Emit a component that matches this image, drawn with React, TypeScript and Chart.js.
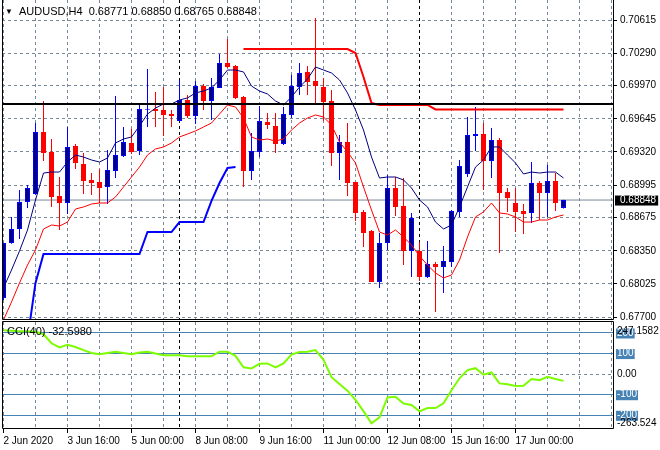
import React, { useEffect, useRef } from 'react';
import { Chart, registerables } from 'chart.js';

Chart.register(...registerables);

// ---------------- DATA ----------------
const symbol = 'AUDUSD,H4';
const cciPeriod = 40;

const opens = [
  0.67886, 0.68426, 0.68564, 0.68829, 0.68907, 0.69516, 0.69320, 0.68888, 0.68819, 0.69378,
  0.69202, 0.69045, 0.69025, 0.68976, 0.69133, 0.69280, 0.69408, 0.69329, 0.69735, 0.69742,
  0.69732, 0.69692, 0.69624, 0.69830, 0.69673, 0.69967, 0.69820, 0.69948, 0.70193, 0.70164,
  0.69859, 0.69133, 0.69320, 0.69614, 0.69575, 0.69398, 0.69683, 0.69957, 0.70105, 0.70016,
  0.69957, 0.69820, 0.69310, 0.69418, 0.69025, 0.68731, 0.68544, 0.68044, 0.68426, 0.68966,
  0.68790, 0.68348, 0.68348, 0.68093, 0.68220, 0.68191, 0.68240, 0.68731, 0.69104, 0.69476,
  0.69496, 0.69231, 0.69437, 0.68927, 0.68819, 0.68740, 0.68721, 0.69015, 0.68917, 0.69035,
  0.68771,
];
const highs = [
  0.68430, 0.68682, 0.68947, 0.68996, 0.69604, 0.69820, 0.69447, 0.69074, 0.69565, 0.69398,
  0.69310, 0.69113, 0.69153, 0.69339, 0.69869, 0.69565, 0.69545, 0.69781, 0.70134, 0.69908,
  0.69957, 0.69732, 0.70026, 0.69879, 0.70016, 0.69987, 0.70046, 0.70281, 0.70429, 0.70173,
  0.69869, 0.69506, 0.69771, 0.69702, 0.69702, 0.69761, 0.70075, 0.70193, 0.70164, 0.70635,
  0.70046, 0.69928, 0.69486, 0.69604, 0.69025, 0.68750, 0.68554, 0.68524, 0.69094, 0.69074,
  0.69064, 0.68721, 0.68436, 0.68446, 0.68240, 0.68397, 0.68750, 0.69241, 0.69663, 0.69761,
  0.69604, 0.69555, 0.69457, 0.68966, 0.68966, 0.68809, 0.69221, 0.69035, 0.69192, 0.69113,
  0.68850,
];
const lows = [
  0.67867, 0.68420, 0.68466, 0.68770, 0.68900, 0.69231, 0.68780, 0.68554, 0.68711, 0.69153,
  0.68907, 0.68897, 0.68819, 0.68809, 0.69064, 0.69270, 0.69300, 0.69290, 0.69565, 0.69565,
  0.69476, 0.69565, 0.69624, 0.69653, 0.69594, 0.69732, 0.69634, 0.69948, 0.70144, 0.69840,
  0.68976, 0.69045, 0.69270, 0.69545, 0.69310, 0.69388, 0.69653, 0.69879, 0.69879, 0.69791,
  0.69624, 0.69182, 0.69045, 0.68888, 0.68642, 0.68387, 0.68044, 0.67985, 0.68358, 0.68691,
  0.68210, 0.68093, 0.68053, 0.68083, 0.67749, 0.67936, 0.68191, 0.68682, 0.69074, 0.69329,
  0.68947, 0.69064, 0.68328, 0.68731, 0.68534, 0.68515, 0.68623, 0.68652, 0.68682, 0.68740,
  0.68765,
];
const closes = [
  0.68426, 0.68564, 0.68829, 0.68966, 0.69516, 0.69310, 0.68878, 0.68819, 0.69369, 0.69212,
  0.69035, 0.69015, 0.68966, 0.69143, 0.69290, 0.69418, 0.69320, 0.69742, 0.69742, 0.69722,
  0.69683, 0.69673, 0.69830, 0.69673, 0.69967, 0.69820, 0.69957, 0.70193, 0.70154, 0.69850,
  0.69133, 0.69329, 0.69624, 0.69584, 0.69398, 0.69692, 0.69967, 0.70095, 0.70007, 0.69967,
  0.69810, 0.69310, 0.69418, 0.69015, 0.68721, 0.68524, 0.68044, 0.68426, 0.68966, 0.68780,
  0.68348, 0.68672, 0.68093, 0.68220, 0.68191, 0.68250, 0.68740, 0.69182, 0.69486, 0.69496,
  0.69231, 0.69437, 0.68917, 0.68868, 0.68731, 0.68711, 0.69015, 0.68917, 0.69035, 0.68819,
  0.68848,
];
const upperBand = [
  0.67985, 0.68161, 0.68348, 0.68554, 0.68848, 0.69113, 0.69123, 0.69123, 0.69221, 0.69290,
  0.69270, 0.69241, 0.69221, 0.69261, 0.69408, 0.69447, 0.69467, 0.69575, 0.69692, 0.69751,
  0.69791, 0.69791, 0.69830, 0.69850, 0.69899, 0.69918, 0.69948, 0.70026, 0.70124, 0.70124,
  0.70105, 0.69967, 0.69918, 0.69889, 0.69820, 0.69781, 0.69859, 0.69957, 0.70036, 0.70154,
  0.70124, 0.70095, 0.70026, 0.69899, 0.69732, 0.69535, 0.69270, 0.69064, 0.69074, 0.69074,
  0.69045, 0.68966, 0.68848, 0.68780, 0.68632, 0.68564, 0.68603, 0.68780, 0.68976, 0.69172,
  0.69241, 0.69369, 0.69369, 0.69290, 0.69212, 0.69104, 0.69123, 0.69113, 0.69123, 0.69123,
  0.69064,
];
const lowerBand = [
  0.67671, 0.67847, 0.68034, 0.68210, 0.68358, 0.68564, 0.68603, 0.68593, 0.68632, 0.68760,
  0.68780, 0.68809, 0.68819, 0.68819, 0.68878, 0.68976, 0.69074, 0.69172, 0.69290, 0.69349,
  0.69369, 0.69408, 0.69467, 0.69496, 0.69526, 0.69565, 0.69604, 0.69692, 0.69781, 0.69761,
  0.69653, 0.69467, 0.69437, 0.69447, 0.69427, 0.69447, 0.69535, 0.69604, 0.69653, 0.69683,
  0.69663, 0.69584, 0.69418, 0.69320, 0.69212, 0.68976, 0.68750, 0.68534, 0.68505, 0.68554,
  0.68485, 0.68407, 0.68299, 0.68210, 0.68132, 0.68083, 0.68112, 0.68259, 0.68485, 0.68682,
  0.68731, 0.68819, 0.68721, 0.68711, 0.68682, 0.68632, 0.68632, 0.68652, 0.68652, 0.68682,
  0.68701,
];
const blueStop = [
  null, null, null, 0.67484, 0.68034, 0.68318, 0.68318, 0.68318, 0.68318, 0.68318,
  0.68318, 0.68318, 0.68318, 0.68318, 0.68318, 0.68318, 0.68318, 0.68318, 0.68534, 0.68534,
  0.68534, 0.68534, 0.68632, 0.68632, 0.68632, 0.68632, 0.68839, 0.69015, 0.69162, 0.69172,
  null, null, null, null, null, null, null, null, null, null,
  null, null, null, null, null, null, null, null, null, null,
  null, null, null, null, null, null, null, null, null, null,
  null, null, null, null, null, null, null, null, null, null,
  null,
];
const redStop = [
  null, null, null, null, null, null, null, null, null, null,
  null, null, null, null, null, null, null, null, null, null,
  null, null, null, null, null, null, null, null, null, null,
  0.70330, 0.70330, 0.70330, 0.70330, 0.70330, 0.70330, 0.70330, 0.70330, 0.70330, 0.70330,
  0.70330, 0.70330, 0.70330, 0.70330, 0.70291, 0.70056, 0.69800, 0.69781, 0.69781, 0.69781,
  0.69781, 0.69781, 0.69781, 0.69781, 0.69737, 0.69737, 0.69737, 0.69737, 0.69737, 0.69737,
  0.69737, 0.69737, 0.69737, 0.69737, 0.69737, 0.69737, 0.69737, 0.69737, 0.69737, 0.69737,
  0.69737,
];
const cci = [
  213, 211, 209, 208, 206, 194, 150, 130, 143, 132,
  117, 103, 97, 103, 109, 103, 97, 105, 109, 100,
  92, 92, 92, 87, 87, 87, 87, 109, 109, 89,
  33, 28, 50, 52, 33, 52, 95, 108, 109, 117,
  70, -15, -48, -80, -125, -180, -239, -210, -113, -110,
  -143, -150, -181, -165, -165, -142, -78, -20, 20, 29,
  -3, 8, -45, -49, -58, -56, -24, -29, -13, -24,
  -32.598,
];
const resistanceLevel = 0.6979;
const priceTicks = [0.70615, 0.7029, 0.6997, 0.69645, 0.6932, 0.68995, 0.68675, 0.6835, 0.68025, 0.677];
const cciLevels = [200, 100, 0, -100, -200];
const cciMaxLabel = '247.1582';
const cciMinLabel = '-263.524';
const timeLabels = [
  '2 Jun 2020', '3 Jun 16:00', '5 Jun 00:00', '8 Jun 08:00', '9 Jun 16:00',
  '11 Jun 00:00', '12 Jun 08:00', '15 Jun 16:00', '17 Jun 00:00',
];
const weekStarts = [22, 52];

// ---------------- STYLE / LAYOUT ----------------
const FONT = "'Liberation Sans Narrow', 'Liberation Sans', Arial, sans-serif";
const AXIS_FONT_SIZE = 10;
const GRID = '#778899';
const CLEAR = 'rgba(0,0,0,0)';
const BULL_BODY = '#000080';
const BULL_LINE = '#0000FF';
const BEAR = '#FF0000';
const STEEL = '#4682B4';

const N = closes.length;
const X_MIN = -0.1875;
const X_MAX = 76.3125;
const PRICE_MIN = 0.676706;
const PRICE_MAX = 0.708113;
const CCI_MIN = -266.6;
const CCI_MAX = 253.46;
const CCI_MAX_LABEL_AT = 208.3;
const CCI_MIN_LABEL_AT = -239.9;

const xTickValues: number[] = [];
for (let v = 0; v <= 76; v += 4) xTickValues.push(v);
const allXTicks = [...xTickValues, ...weekStarts];

const toPoints = (arr: (number | null)[]) =>
  arr.map((v, i) => (v == null ? null : { x: i, y: v })).filter(Boolean);

const isBull = (i: number) => closes[i] >= opens[i];
const lastClose = closes[N - 1];

const makeFrame = (withTop: boolean) => ({
  id: 'frame' + (withTop ? 'T' : ''),
  afterDraw(chart: any) {
    const { ctx, chartArea: a } = chart;
    const l = a.left + 0.5;
    const r = a.right - 0.5;
    const t = a.top - 0.5;
    const b = a.bottom - 0.5;
    ctx.save();
    ctx.strokeStyle = '#000';
    ctx.lineWidth = 1;
    ctx.beginPath();
    ctx.moveTo(l, withTop ? t : a.top);
    ctx.lineTo(l, b);
    ctx.lineTo(r, b);
    ctx.lineTo(r, withTop ? t : a.top);
    if (withTop) ctx.lineTo(l, t);
    ctx.stroke();
    ctx.restore();
  },
});

const tickVal = (ctx: any) => (ctx && ctx.tick ? ctx.tick.value : NaN);
const xGridColor = (ctx: any) => (weekStarts.includes(tickVal(ctx)) ? '#000' : GRID);

export default function App() {
  const mainRef = useRef<HTMLCanvasElement>(null);
  const cciRef = useRef<HTMLCanvasElement>(null);

  useEffect(() => {
    Chart.defaults.font.family = FONT;
    Chart.defaults.font.size = AXIS_FONT_SIZE;
    Chart.defaults.color = '#000';

    const isBid = (ctx: any) => Math.abs(tickVal(ctx) - lastClose) < 1e-9;

    const main = new Chart(mainRef.current as HTMLCanvasElement, {
      type: 'bar',
      data: {
        datasets: [
          {
            type: 'line',
            data: [{ x: X_MIN, y: resistanceLevel }, { x: X_MAX, y: resistanceLevel }],
            borderColor: '#000', borderWidth: 2, pointRadius: 0, order: 0,
          },
          {
            type: 'line', data: toPoints(redStop), borderColor: BEAR, borderWidth: 2,
            pointRadius: 0, order: 1,
          },
          {
            type: 'line', data: toPoints(blueStop), borderColor: BULL_LINE, borderWidth: 2,
            pointRadius: 0, order: 1,
          },
          {
            type: 'line', data: toPoints(upperBand), borderColor: BULL_BODY, borderWidth: 1,
            pointRadius: 0, order: 2,
          },
          {
            type: 'line', data: toPoints(lowerBand), borderColor: BEAR, borderWidth: 1,
            pointRadius: 0, order: 2,
          },
          {
            type: 'line',
            data: [{ x: X_MIN, y: lastClose }, { x: X_MAX, y: lastClose }],
            borderColor: GRID, borderWidth: 1, pointRadius: 0, order: 8,
          },
          {
            type: 'bar',
            data: opens.map((o, i) => ({ x: i, y: [Math.min(o, closes[i]), Math.max(o, closes[i])] })),
            backgroundColor: (c: any) => (isBull(c.dataIndex) ? BULL_BODY : BEAR),
            borderColor: (c: any) => (isBull(c.dataIndex) ? BULL_LINE : BEAR),
            borderWidth: 1, borderSkipped: false, barThickness: 5, grouped: false,
            minBarLength: 1, inflateAmount: 0, order: 5,
          },
          {
            type: 'bar',
            data: highs.map((h, i) => ({ x: i, y: [lows[i], h] })),
            backgroundColor: (c: any) => (isBull(c.dataIndex) ? BULL_LINE : BEAR),
            borderWidth: 0, barThickness: 1, grouped: false, inflateAmount: 0, order: 6,
          },
        ],
      } as any,
      options: {
        responsive: false,
        maintainAspectRatio: false,
        animation: false,
        devicePixelRatio: 1,
        events: [],
        layout: { padding: { left: 2, top: 0, right: 0, bottom: 1 } },
        plugins: { legend: { display: false }, tooltip: { enabled: false } },
        scales: {
          x: {
            type: 'linear', min: X_MIN, max: X_MAX, offset: false, bounds: 'data',
            afterBuildTicks: (s: any) => { s.ticks = allXTicks.map((v) => ({ value: v })); },
            afterFit: (s: any) => { s.height = 0; s.paddingLeft = 0; s.paddingRight = 0; },
            ticks: { display: false },
            grid: { offset: false, drawTicks: false, color: xGridColor, lineWidth: 1 },
            border: { display: false, dash: [3, 3] },
          },
          y: {
            type: 'linear', position: 'right', min: PRICE_MIN, max: PRICE_MAX,
            bounds: 'data', beginAtZero: false,
            afterBuildTicks: (s: any) => {
              s.ticks = [...priceTicks, lastClose].map((v) => ({ value: v }));
            },
            afterFit: (s: any) => { s.width = 46; s.paddingTop = 0; s.paddingBottom = 0; },
            ticks: {
              autoSkip: false, padding: 3,
              font: { family: FONT, size: AXIS_FONT_SIZE, lineHeight: 1.1 },
              color: (c: any) => (isBid(c) ? '#fff' : '#000'),
              showLabelBackdrop: (c: any) => isBid(c),
              backdropColor: '#000',
              backdropPadding: { top: -1, bottom: 0, left: 5, right: 2 },
              callback: (v: any) => Number(v).toFixed(5),
            },
            grid: {
              drawTicks: true, tickLength: 3, lineWidth: 1,
              color: (c: any) => (isBid(c) ? CLEAR : GRID),
              tickColor: (c: any) => (isBid(c) ? CLEAR : '#000'),
            },
            border: { display: false, dash: [3, 3] },
          },
        },
      } as any,
      plugins: [makeFrame(false)],
    });

    const isLevel = (ctx: any) => [200, 100, -100, -200].includes(tickVal(ctx));

    const cciChart = new Chart(cciRef.current as HTMLCanvasElement, {
      type: 'line',
      data: {
        datasets: [
          {
            data: toPoints(cci), borderColor: '#7CFC00', borderWidth: 2, pointRadius: 0,
          },
        ],
      } as any,
      options: {
        responsive: false,
        maintainAspectRatio: false,
        animation: false,
        devicePixelRatio: 1,
        events: [],
        layout: { padding: { left: 2, top: 1, right: 0, bottom: 0 } },
        plugins: { legend: { display: false }, tooltip: { enabled: false } },
        scales: {
          x: {
            type: 'linear', min: X_MIN, max: X_MAX, offset: false, bounds: 'data',
            afterBuildTicks: (s: any) => { s.ticks = allXTicks.map((v) => ({ value: v })); },
            afterFit: (s: any) => { s.height = 21; s.paddingLeft = 0; s.paddingRight = 0; },
            ticks: {
              display: true, autoSkip: false, maxRotation: 0, minRotation: 0,
              align: 'start', padding: 2, color: '#000',
              font: { family: FONT, size: AXIS_FONT_SIZE },
              callback: (v: any) => {
                const n = Number(v);
                if (n % 8 === 0 && n / 8 < timeLabels.length) return timeLabels[n / 8];
                return '';
              },
            },
            grid: {
              offset: false, drawTicks: true, tickLength: 4, lineWidth: 1,
              color: xGridColor,
              tickColor: (c: any) => {
                const n = tickVal(c);
                return n % 8 === 0 && n / 8 < timeLabels.length ? '#000' : CLEAR;
              },
            },
            border: { display: false, dash: [3, 3] },
          },
          y: {
            type: 'linear', position: 'right', min: CCI_MIN, max: CCI_MAX, bounds: 'data',
            afterBuildTicks: (s: any) => {
              s.ticks = [...cciLevels, CCI_MAX_LABEL_AT, CCI_MIN_LABEL_AT].map((v) => ({ value: v }));
            },
            afterFit: (s: any) => { s.width = 46; s.paddingTop = 0; s.paddingBottom = 0; },
            ticks: {
              autoSkip: false, padding: 3,
              font: { family: FONT, size: AXIS_FONT_SIZE, lineHeight: 1.1 },
              color: (c: any) => (isLevel(c) ? '#fff' : '#000'),
              showLabelBackdrop: (c: any) => isLevel(c),
              backdropColor: STEEL,
              backdropPadding: { top: -1, bottom: 0, left: 1, right: 1 },
              callback: (v: any) => {
                const n = Number(v);
                if (n === CCI_MAX_LABEL_AT) return cciMaxLabel;
                if (n === CCI_MIN_LABEL_AT) return cciMinLabel;
                if (n === 0) return '0.00';
                return String(n);
              },
            },
            grid: {
              drawTicks: false, lineWidth: 1,
              color: (c: any) => (isLevel(c) ? STEEL : tickVal(c) === 0 ? GRID : CLEAR),
            },
            border: { display: false, dash: (c: any) => (isLevel(c) ? [] : [3, 3]) },
          },
        },
      } as any,
      plugins: [makeFrame(true)],
    });

    return () => {
      main.destroy();
      cciChart.destroy();
    };
  }, []);

  const header = `${opens[N - 1].toFixed(5)} ${highs[N - 1].toFixed(5)} ${lows[N - 1].toFixed(5)} ${closes[N - 1].toFixed(5)}`;
  const textStyle: React.CSSProperties = {
    position: 'absolute', fontFamily: FONT, fontSize: 11, lineHeight: '13px',
    color: '#000', whiteSpace: 'pre',
  };

  return (
    <div style={{ position: 'fixed', left: 0, top: 0, width: 660, height: 450, background: '#fff', overflow: 'hidden' }}>
      <canvas ref={mainRef} width={660} height={321} style={{ position: 'absolute', left: 0, top: 0 }} />
      <canvas ref={cciRef} width={660} height={129} style={{ position: 'absolute', left: 0, top: 321 }} />
      <div style={{ ...textStyle, left: 5, top: 5, fontSize: 8 }}>▼</div>
      <div style={{ ...textStyle, left: 19, top: 5 }}>{`${symbol}  ${header}`}</div>
      <div style={{ ...textStyle, left: 7, top: 325 }}>{`CCI(${cciPeriod}) ${cci[N - 1].toFixed(4)}`}</div>
    </div>
  );
}
